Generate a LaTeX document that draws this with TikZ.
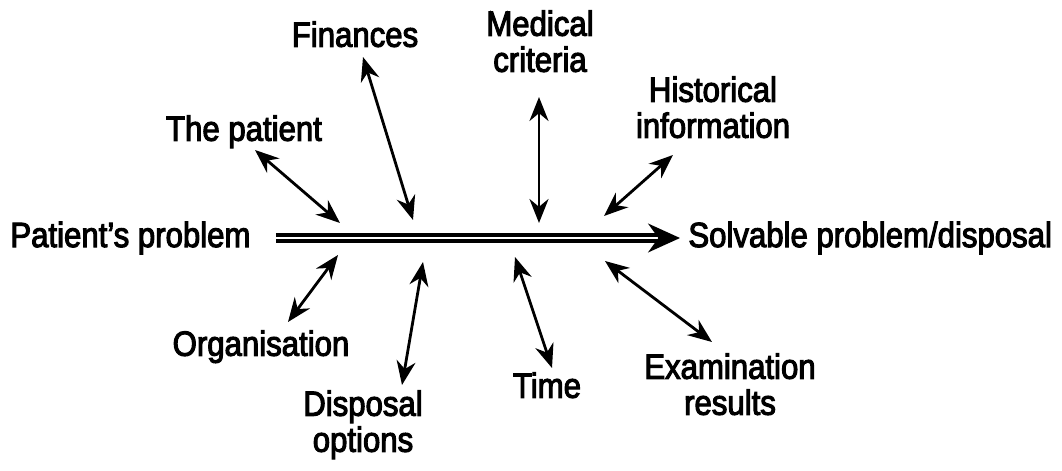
\documentclass[tikz,border=0pt]{standalone}
\usepackage{fontspec}
\newfontfamily\termfont{Liberation Sans}[FakeStretch=0.89, FakeBold=3]
\usetikzlibrary{arrows.meta, calc}

\begin{document}
\begin{tikzpicture}[
        x=0.5pt, y=-0.5pt,
        term/.style={font=\termfont\fontsize{17.5pt}{18pt}\selectfont, inner sep=0pt, align=center, anchor=north},
        link/.style={{Stealth[length=12pt, width=9.5pt]}-{Stealth[length=12pt, width=9.5pt]}, line width=1.4pt},
        shaft/.style={double, line width=1.7pt, double distance=1.3pt},
        head/.style={-{Stealth[length=16pt, width=14.5pt]}, line width=1pt}
    ]
        \useasboundingbox (0,0) rectangle (1062,471);

        % Problem -> disposal
        \node[term, anchor=west] (problem) at (10,238) {Patient’s problem};
        \node[term, anchor=west] (solvable) at (688,238) {Solvable problem/disposal};
        \draw[shaft, shorten <=12.5pt, shorten >=12pt] (problem) -- (solvable);
        \draw[head, shorten >=4pt] ($(solvable.west)+(-30,0)$) -- (solvable.west);

        % Factors
        \node[term] (patient) at (244,115) {The patient};
        \node[term] (finances) at (355,21) {Finances};
        \node[term] (medical) at (540,10) {Medical\\criteria};
        \node[term] (history) at (713,76) {Historical\\information};
        \node[term] (organisation) at (261,330) {Organisation};
        \node[term] (options) at (363,390) {Disposal\\options};
        \node[term] (time) at (547,372) {Time};
        \node[term] (results) at (730,353) {Examination\\results};

        % Arrow ends
        \coordinate (pat-a) at (255,150); \coordinate (pat-b) at (340,223);
        \coordinate (fin-a) at (363,57);  \coordinate (fin-b) at (413,220);
        \coordinate (med-a) at (539,97);  \coordinate (med-b) at (539,223);
        \coordinate (his-a) at (673,155); \coordinate (his-b) at (604,216);
        \coordinate (org-a) at (288,322); \coordinate (org-b) at (338,255);
        \coordinate (dis-a) at (402,385); \coordinate (dis-b) at (423,262);
        \coordinate (tim-a) at (552,368); \coordinate (tim-b) at (515,257);
        \coordinate (exa-a) at (712,342); \coordinate (exa-b) at (605,261);

        \foreach \f in {pat, fin, med, his, org, dis, tim, exa} {
            \draw[link] (\f-a) -- (\f-b);
        }
    \end{tikzpicture}
\end{document}
